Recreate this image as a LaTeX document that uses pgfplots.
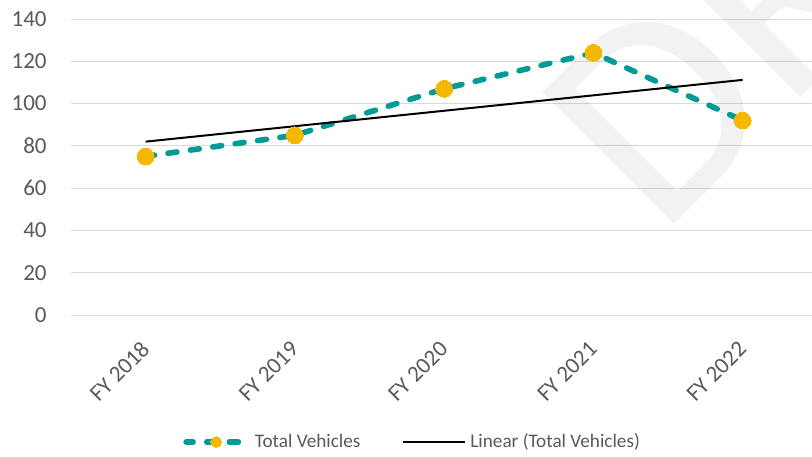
\documentclass[border=0pt]{standalone}
\usepackage{pgfplots}
\pgfplotsset{compat=1.18}
\usepackage{fontspec}
\setmainfont{Carlito}
\definecolor{teal1}{HTML}{009B95}
\definecolor{gold1}{HTML}{F4B800}
\definecolor{grid1}{HTML}{D9D9D9}
\definecolor{txt}{HTML}{595959}
\begin{document}
\begin{tikzpicture}
\begin{axis}[
  at={(0,0)}, anchor=south west,
  scale only axis, width=370.8pt, height=148pt,
  xmin=-0.5, xmax=4.469, ymin=0, ymax=140,
  clip=false,
  xtick={0,1,2,3,4},
  xticklabels={FY 2018,FY 2019,FY 2020,FY 2021,FY 2022},
  ytick={0,20,...,140},
  axis line style={draw=none},
  major tick length=0pt,
  ymajorgrids, grid style={color=grid1, line width=0.5pt},
  /pgf/number format/assume math mode=true,
  tick label style={font=\fontsize{11.5}{13}\selectfont, text=txt},
  yticklabel style={anchor=east, inner sep=0pt, xshift=-12pt},
  xticklabel style={inner sep=0pt, anchor=east, xshift=0pt, yshift=-15pt, rotate=45},
  legend columns=2,
  legend style={draw=none, at={(0.462,-0.429)}, anchor=center,
    font=\fontsize{9.6}{11}\selectfont, text=txt,
    /tikz/every even column/.append style={column sep=19pt}},
  legend image code/.code={
    \draw[#1, mark=none, dash phase=1pt] (0pt,0pt) -- (31pt,0pt);
    \path[#1, mark size=2.6pt, draw=none] plot coordinates {(15pt,0pt)};
  },
]
\node[overlay, rotate=45, anchor=base west, inner sep=0pt, text=black, text opacity=0.05,
  font=\fontsize{145}{150}\selectfont] at (axis cs:3.45,35.9) {DRAFT};
\addplot[color=teal1, line width=2.8pt, line cap=round, dash pattern=on 4.5pt off 6.8pt,
  mark=*, mark size=4.2pt, mark options={solid, fill=gold1, draw=gold1, line width=0pt}]
  coordinates {(0,75) (1,85) (2,107) (3,124) (4,92)};
\addlegendentry{Total Vehicles}
\addplot[color=black, line width=1pt] coordinates {(0,82.0) (4,111.2)};
\addlegendentry{Linear (Total Vehicles)}
\end{axis}
\pgfresetboundingbox
\path[use as bounding box] (-35.5pt,-70.5pt) rectangle (370.5pt,157.5pt);
\end{tikzpicture}
\end{document}
